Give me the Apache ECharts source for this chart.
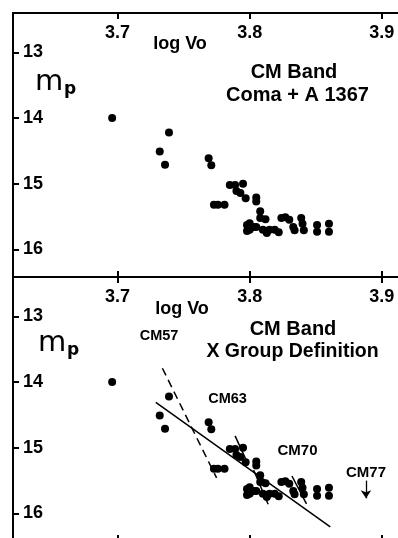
<!DOCTYPE html>
<html>
<head>
<meta charset="utf-8">
<style>
  html, body { margin: 0; padding: 0; background: #fff; }
  #chart { width: 398px; height: 538px; }
</style>
<script src="https://cdn.jsdelivr.net/npm/echarts@6/dist/echarts.min.js"></script>
</head>
<body>
<div id="chart"></div>
<script>
// Tick values shared by both panels
const xTicks = [3.7, 3.8, 3.9];
const yTicks = [13, 14, 15, 16];

// Galaxies: log V0 and photographic magnitude m_p (same sample in both panels)
const logV0 = [
  3.696, 3.739, 3.732, 3.736, 3.769, 3.771, 3.785, 3.789, 3.795, 3.790,
  3.793, 3.797, 3.805, 3.805, 3.773, 3.776, 3.781, 3.808, 3.808, 3.812,
  3.798, 3.800, 3.803, 3.800, 3.798, 3.805, 3.810, 3.813, 3.815, 3.819,
  3.822, 3.824, 3.827, 3.830, 3.833, 3.834, 3.839, 3.840, 3.841, 3.851,
  3.851, 3.860, 3.860
];
const mp = [
  14.00, 14.22, 14.51, 14.71, 14.61, 14.72, 15.02, 15.02, 15.00, 15.11,
  15.14, 15.22, 15.21, 15.27, 15.32, 15.32, 15.32, 15.42, 15.52, 15.54,
  15.63, 15.60, 15.66, 15.70, 15.72, 15.66, 15.70, 15.75, 15.70, 15.70,
  15.74, 15.52, 15.51, 15.55, 15.66, 15.71, 15.52, 15.61, 15.71, 15.63,
  15.73, 15.61, 15.73
];

// Lines of the group definition (lower panel)
const bandFitX = [3.729, 3.861];
const bandFitM = [14.31, 16.205];
const cm57X = [3.734, 3.775];
const cm57M = [13.79, 15.46];
const cm63X = [3.789, 3.799];
const cm63M = [14.82, 15.26];
const cm63bX = [3.803, 3.814];
const cm63bM = [15.34, 15.86];
const cm70X = [3.832, 3.843];
const cm70M = [15.43, 15.855];
// CM77 marker position
const cm77X = 3.888;
const cm77M = [15.5, 15.77];

const points = logV0.map((v, i) => [v, mp[i]]);
const pair = (xs, ms) => xs.map((v, i) => [v, ms[i]]);

const FONT = '"Liberation Sans", Arial, sans-serif';
const X_MIN = 3.621, X_MAX = 3.921;
const Y_MIN = 12.4, Y_MAX = 16.42;

function xAxesFor(gi) {
  const common = {
    gridIndex: gi, type: 'value', min: X_MIN, max: X_MAX,
    splitLine: { show: false },
    axisLine: { show: true, onZero: false, lineStyle: { color: '#000', width: 2 } },
    axisTick: { show: true, inside: true, length: 6, customValues: xTicks,
                lineStyle: { color: '#000', width: 2 } }
  };
  return [
    Object.assign({}, common, {
      position: 'top',
      axisLabel: { show: true, inside: true, customValues: xTicks, margin: 11,
                   formatter: v => v.toFixed(1), color: '#000',
                   fontFamily: FONT, fontWeight: 'bold', fontSize: 18 }
    }),
    Object.assign({}, common, {
      position: 'bottom',
      axisLabel: { show: false }
    })
  ];
}

function yAxisFor(gi) {
  return {
    gridIndex: gi, type: 'value', position: 'left', inverse: true,
    min: Y_MIN, max: Y_MAX,
    splitLine: { show: false },
    axisLine: { show: true, onZero: false, lineStyle: { color: '#000', width: 2 } },
    axisTick: { show: true, inside: true, length: 6, customValues: yTicks,
                lineStyle: { color: '#000', width: 2 } },
    axisLabel: { show: true, inside: true, customValues: yTicks, margin: 10,
                 color: '#000', fontFamily: FONT, fontWeight: 'bold', fontSize: 18 }
  };
}

function fitLine(data, xi, dashed) {
  return {
    type: 'line', xAxisIndex: xi, yAxisIndex: 1, data: data,
    symbol: 'none', silent: true, z: 2,
    lineStyle: { color: '#000', width: 1.5, type: dashed ? [8, 5] : 'solid' }
  };
}

const text = (str, x, y, size, weight, family) => ({
  type: 'text', x: x, y: y, silent: true,
  style: { text: str, fill: '#000', align: 'center', verticalAlign: 'middle',
           font: (weight || 'bold') + ' ' + size + 'px ' + (family || FONT) }
});

const dotStyle = { color: '#000', opacity: 1 };

const chart = echarts.init(document.getElementById('chart'), null, { renderer: 'canvas' });
chart.setOption({
  animation: false,
  backgroundColor: '#fff',
  grid: [
    { left: 13, top: 13, width: 396.6, height: 264, containLabel: false, outerBoundsMode: 'none' },
    { left: 13, top: 277, width: 396.6, height: 264, containLabel: false, outerBoundsMode: 'none' }
  ],
  xAxis: xAxesFor(0).concat(xAxesFor(1)),
  yAxis: [yAxisFor(0), yAxisFor(1)],
  series: [
    { type: 'scatter', xAxisIndex: 0, yAxisIndex: 0, data: points,
      symbolSize: 8, itemStyle: dotStyle, z: 3 },
    { type: 'scatter', xAxisIndex: 2, yAxisIndex: 1, data: points,
      symbolSize: 8, itemStyle: dotStyle, z: 3,
      markLine: {
        silent: true, symbol: ['none', 'arrow'], symbolSize: 8,
        label: { show: false },
        lineStyle: { color: '#000', width: 1.3, type: 'solid', opacity: 1 },
        data: [[{ coord: [cm77X, cm77M[0]] }, { coord: [cm77X, cm77M[1]] }]]
      } },
    fitLine(pair(bandFitX, bandFitM), 2, false),
    fitLine(pair(cm57X, cm57M), 2, true),
    fitLine(pair(cm63X, cm63M), 2, false),
    fitLine(pair(cm63bX, cm63bM), 2, false),
    fitLine(pair(cm70X, cm70M), 2, false)
  ],
  graphic: [
    // upper panel
    text('log Vo', 180, 44, 18),
    text('m', 49, 82, 29, 'normal', '"DejaVu Sans", sans-serif'),
    text('p', 70, 90, 17, 'bold', '"DejaVu Sans", sans-serif'),
    text('CM Band', 294, 72.5, 20),
    text('Coma + A 1367', 297.5, 95, 20),
    // lower panel
    text('log Vo', 182, 309, 18),
    text('m', 52, 343, 29, 'normal', '"DejaVu Sans", sans-serif'),
    text('p', 73, 351, 17, 'bold', '"DejaVu Sans", sans-serif'),
    text('CM Band', 293, 329.5, 20),
    text('X Group Definition', 292.5, 352, 19.5),
    text('CM57', 159, 336, 14.5),
    text('CM63', 227.5, 398.5, 14.5),
    text('CM70', 297.5, 450.5, 15),
    text('CM77', 366, 472.5, 15)
  ]
});
</script>
</body>
</html>
